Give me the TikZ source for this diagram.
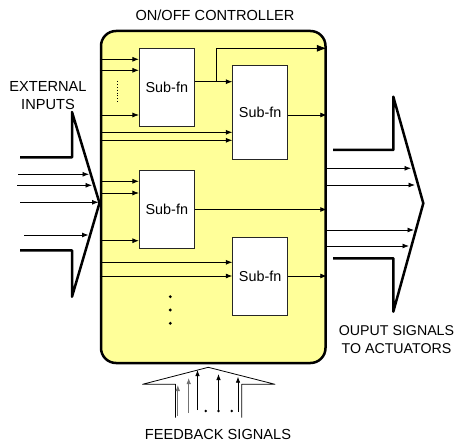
\documentclass[tikz,border=0pt]{standalone}
\usepackage{fontspec}
\setmainfont{Liberation Sans}
\usetikzlibrary{arrows.meta}
\definecolor{ctrlfill}{RGB}{255,255,153}
\begin{document}
\begin{tikzpicture}[x=1pt,y=-1pt,
  txt/.style={font=\fontsize{14.6}{18}\selectfont, inner sep=0pt, align=center},
  subfn/.style={draw=black!85, line width=0.8pt, fill=white, minimum width=55pt, inner sep=0pt, font=\fontsize{14.4}{16}\selectfont},
  sig/.style={line width=0.8pt, -{Latex[length=6.5pt,width=5pt]}},
  bigsig/.style={line width=0.8pt, -{Latex[length=10pt,width=7pt]}},
  fb/.style={line width=0.8pt, -{Latex[length=6pt,width=4.5pt]}},
  bigarr/.style={line width=2.5pt, line join=round},
  thinarr/.style={line width=0.8pt, line join=round},
  dotm/.style={circle, fill=black, inner sep=0pt, minimum size=3.2pt}
]
\useasboundingbox (0,0) rectangle (455,446);

% controller
\node[draw, line width=2.5pt, fill=ctrlfill, rounded corners=15pt, minimum width=224.5pt, minimum height=332pt, inner sep=0pt] (ctrl) at (213.25,197) {};

% sub-functions
\node[subfn, minimum height=77.3pt] (b1) at (166.8,87.35) {Sub-fn};
\node[subfn, minimum height=94.3pt] (b2) at (260.2,112.15) {Sub-fn};
\node[subfn, minimum height=77.6pt] (b3) at (166.8,209.5) {Sub-fn};
\node[subfn, minimum height=78pt] (b4) at (260.2,276) {Sub-fn};

% inputs to b1
\foreach \y in {59.3,70.3,115} \draw[sig] (ctrl.west |- 0,\y) -- (b1.west |- 0,\y);
\draw[line width=0.9pt, dash pattern=on 0.9pt off 2pt] (117.3,81) -- (117.3,102);
% inputs to b2
\foreach \y in {132.3,140.3} \draw[sig] (ctrl.west |- 0,\y) -- (b2.west |- 0,\y);
\draw[sig] (b1.east |- 0,81.7) -- (b2.west |- 0,81.7);
\coordinate (br) at (216.7,81.7);
\draw[bigsig] (br) -- (216.7,48.3) -- (ctrl.east |- 0,48.3);
\draw[sig] (b2.east |- 0,115) -- (ctrl.east |- 0,115);
% inputs to b3
\foreach \y in {181.3,193,240.7} \draw[sig] (ctrl.west |- 0,\y) -- (b3.west |- 0,\y);
\draw[sig] (b3.east) -- (ctrl.east |- b3.east);
% inputs to b4
\foreach \y in {262.3,276} \draw[sig] (ctrl.west |- 0,\y) -- (b4.west |- 0,\y);
\draw[sig] (b4.east) -- (ctrl.east |- b4.east);

% vertical dots
\node[dotm] (d1) at (170.3,296.7) {};
\node[dotm] (d2) at (170.3,310) {};
\node[dotm] (d3) at (170.3,323.3) {};

% external inputs big arrow
\draw[bigarr] (20,157.5) -- (72,157.5) -- (72,112) -- (99.5,203) -- (72,296.7) -- (72,250.3) -- (20,250.3);
\coordinate (i1s) at (18,174.3); \coordinate (i1e) at (89,174.3);
\coordinate (i2s) at (17,185.3); \coordinate (i2e) at (92,185.3);
\coordinate (i3s) at (20,202.3); \coordinate (i3e) at (98.5,202.3);
\coordinate (i4s) at (24,235);   \coordinate (i4e) at (88.5,235);
\draw[sig] (i1s) -- (i1e);
\draw[sig] (i2s) -- (i2e);
\draw[sig] (i3s) -- (i3e);
\draw[sig] (i4s) -- (i4e);

% output big arrow
\draw[bigarr] (333,150) -- (393.3,150) -- (393.3,96.7) -- (423.3,203.3) -- (393.3,311.7) -- (393.3,258.3) -- (333,258.3);
\coordinate (o1) at (411,168.3);
\coordinate (o2) at (415,185);
\coordinate (o3) at (414,230);
\coordinate (o4) at (409,246);
\draw[sig] (ctrl.east |- o1) -- (o1);
\draw[sig] (ctrl.east |- o2) -- (o2);
\draw[sig] (ctrl.east |- o3) -- (o3);
\draw[sig] (ctrl.east |- o4) -- (o4);

% feedback arrow
\draw[thinarr] (175.5,417.7) -- (175.5,384.3) -- (142.5,384.3) -- (208.3,367.3) -- (275,384.3) -- (241.7,384.3) -- (241.7,417.7);
\coordinate (f1s) at (177.8,416); \coordinate (f1e) at (177.8,385);
\coordinate (f2s) at (188.7,413); \coordinate (f2e) at (188.7,378);
\coordinate (f3s) at (197.5,410); \coordinate (f3e) at (197.5,370);
\coordinate (f4s) at (218.5,411); \coordinate (f4e) at (218.5,374);
\coordinate (f5s) at (238,411.7); \coordinate (f5e) at (238,376.7);
\draw[fb, draw=black!55] (f1s) -- (f1e);
\draw[fb, draw=black!55] (f2s) -- (f2e);
\draw[fb] (f3s) -- (f3e);
\draw[fb] (f4s) -- (f4e);
\draw[fb] (f5s) -- (f5e);
\node[dotm, minimum size=2.8pt] (e1) at (205.7,411) {};
\node[dotm, minimum size=2.8pt] (e2) at (218.5,411) {};
\node[dotm, minimum size=2.8pt] (e3) at (231.7,411) {};

% labels
\node[txt] (title) at (215,15) {ON/OFF CONTROLLER};
\node[txt] (ext) at (48,96) {EXTERNAL\\INPUTS};
\node[txt, font=\fontsize{14.2}{18}\selectfont] (out) at (396.5,340) {OUPUT SIGNALS\\TO ACTUATORS};
\node[txt] (fbl) at (218,434) {FEEDBACK SIGNALS};
\end{tikzpicture}
\end{document}
